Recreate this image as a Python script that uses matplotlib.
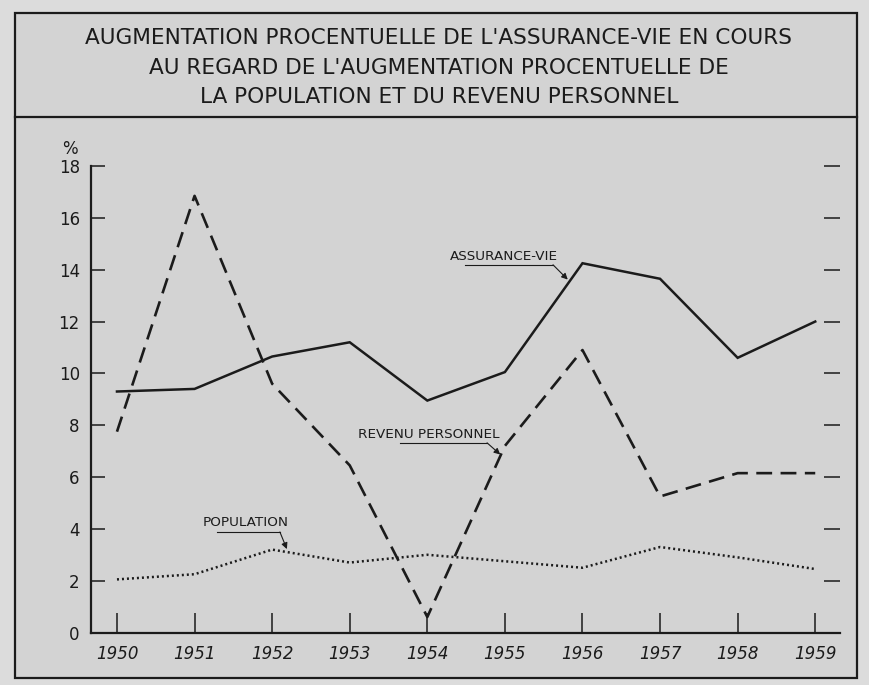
import matplotlib
matplotlib.use('Agg')
import matplotlib.pyplot as plt
from matplotlib.patches import Rectangle
from matplotlib.lines import Line2D

years = [1950, 1951, 1952, 1953, 1954, 1955, 1956, 1957, 1958, 1959]
assurance_vie = [9.3, 9.4, 10.65, 11.2, 8.95, 10.05, 14.25, 13.65, 10.6, 12.0]
revenu_personnel = [7.75, 16.85, 9.6, 6.45, 0.6, 7.2, 10.9, 5.25, 6.15, 6.15]
population = [2.05, 2.25, 3.2, 2.7, 3.0, 2.75, 2.5, 3.3, 2.9, 2.45]

title_lines = [
    "AUGMENTATION PROCENTUELLE DE L'ASSURANCE-VIE EN COURS",
    "AU REGARD DE L'AUGMENTATION PROCENTUELLE DE",
    "LA POPULATION ET DU REVENU PERSONNEL",
]
y_ticks = [0, 2, 4, 6, 8, 10, 12, 14, 16, 18]

INK = '#1b1b1b'
PAPER = '#d3d3d3'

matplotlib.rcParams.update({'font.family': 'DejaVu Sans'})

fig = plt.figure(figsize=(8.69, 6.85), dpi=100)
fig.patch.set_facecolor('#dcdcdc')

# cadre du tableau
fig.add_artist(Rectangle((0.0173, 0.0102), 0.9689, 0.9708, transform=fig.transFigure,
                         facecolor=PAPER, edgecolor=INK, linewidth=1.6, zorder=0))
fig.add_artist(Line2D([0.0173, 0.9862], [0.829, 0.829], transform=fig.transFigure,
                      color=INK, linewidth=1.6))

for i, line in enumerate(title_lines):
    fig.text(0.505, [0.9445, 0.9007, 0.8584][i], line, ha='center', va='center',
             fontsize=15.6, color=INK)

ax = fig.add_axes([0.1047, 0.0766, 0.862, 0.681])
ax.set_facecolor('none')

ax.plot(years, assurance_vie, color=INK, linewidth=1.8, solid_joinstyle='miter')
ax.plot(years, revenu_personnel, color=INK, linewidth=1.9, linestyle=(0, (6, 3.2)))
ax.plot(years, population, color=INK, linewidth=1.8, linestyle=(0, (0.8, 1.2)))

ax.set_xlim(1949.665, 1959.32)
ax.set_ylim(0, 18)

for side in ['top', 'right']:
    ax.spines[side].set_visible(False)
for side in ['left', 'bottom']:
    ax.spines[side].set_color(INK)
    ax.spines[side].set_linewidth(1.6)

ax.set_xticks(years)
ax.set_xticklabels([str(y) for y in years], fontsize=12, style='italic', color=INK)
ax.tick_params(axis='x', direction='in', length=14.5, width=1.1, color=INK, pad=9)

ax.set_yticks(y_ticks)
ax.set_yticklabels([str(v) for v in y_ticks], fontsize=12, color=INK)
ax.tick_params(axis='y', direction='in', length=10, width=1.1, color=INK, pad=8,
               left=True, right=True)
for t in ax.yaxis.get_major_ticks():
    t.tick2line.set_markersize(11.5)
ax.yaxis.get_major_ticks()[0].tick2line.set_visible(False)

ax.text(-0.0285, 1.036, '%', transform=ax.transAxes, ha='center', va='center',
        fontsize=12, color=INK)

# étiquettes des courbes avec leurs renvois
labels = [
    ('ASSURANCE-VIE', 1954.29, 14.5, 1954.49, 1955.62, 14.19, 1955.81, 13.62),
    ('REVENU PERSONNEL', 1953.11, 7.63, 1953.65, 1954.77, 7.32, 1954.94, 6.87),
    ('POPULATION', 1951.11, 4.23, 1951.29, 1952.10, 3.88, 1952.19, 3.22),
]
for text, tx, ty, ux0, ux1, uy, ax_, ay_ in labels:
    ax.text(tx, ty, text, fontsize=9.7, color=INK, va='center', ha='left')
    ax.plot([ux0, ux1], [uy, uy], color=INK, linewidth=0.8)
    ax.annotate('', xy=(ax_, ay_), xytext=(ux1, uy),
                arrowprops=dict(arrowstyle='-|>', color=INK, lw=0.8,
                                mutation_scale=9, shrinkA=0, shrinkB=0))

fig.savefig('out.png', dpi=100, facecolor=fig.get_facecolor())
